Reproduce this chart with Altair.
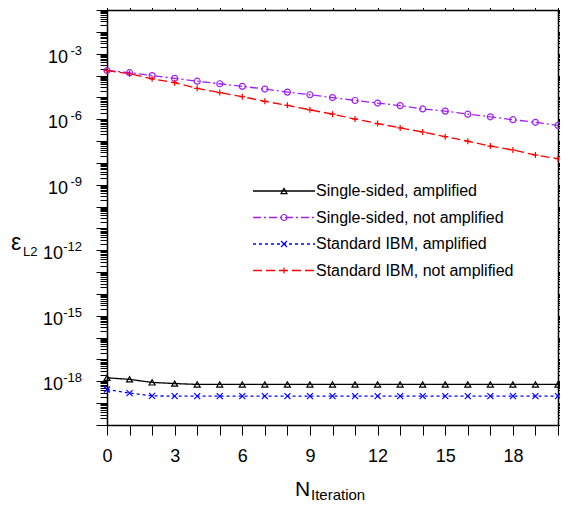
import altair as alt
import pandas as pd

# ---------------- data ----------------
iterations = list(range(21))
series_names = [
    "Single-sided, amplified",
    "Single-sided, not amplified",
    "Standard IBM, amplified",
    "Standard IBM, not amplified",
]
ss_amp = [1.45e-18, 1.23e-18, 8.9e-19, 7.9e-19] + [7.2e-19] * 17
ss_not = [1.70e-4, 1.35e-4, 1.0e-4, 7.4e-5, 5.5e-5, 4.2e-5, 3.2e-5, 2.4e-5,
          1.74e-5, 1.32e-5, 9.8e-6, 7.2e-6, 5.5e-6, 4.2e-6, 2.95e-6, 2.35e-6,
          1.70e-6, 1.29e-6, 9.5e-7, 7.2e-7, 5.2e-7]
ibm_amp = [4.2e-19, 2.9e-19, 2.15e-19] + [2.1e-19] * 18
ibm_not = [1.70e-4, 1.20e-4, 7.1e-5, 4.7e-5, 2.6e-5, 1.66e-5, 1.07e-5, 6.6e-6,
           4.3e-6, 2.7e-6, 1.70e-6, 1.02e-6, 6.3e-7, 4.0e-7, 2.6e-7, 1.58e-7,
           9.8e-8, 5.9e-8, 3.9e-8, 2.3e-8, 1.55e-8]
label_exponents = [-3, -6, -9, -12, -15, -18]
x_ticks = list(range(0, 21))
y_ticks = [m * 10.0 ** k for k in range(-20, -1) for m in range(1, 10)] + [1e-1]

colors = ["#000000", "#a020f0", "#0000ff", "#ff0000"]
dashes = [[1, 0], [8, 3, 2, 3], [3, 3], [9, 4]]
shapes = ["triangle-up", "circle", "M-1,-1L1,1M-1,1L1,-1", "M-1,0L1,0M0,-1L0,1"]
sizes = [36, 36, 30, 45]

FONT = "Liberation Sans"

rows = []
for name, vals in zip(series_names, [ss_amp, ss_not, ibm_amp, ibm_not]):
    for it, v in zip(iterations, vals):
        rows.append({"series": name, "it": it, "err": v})
df = pd.DataFrame(rows)

xscale = alt.Scale(domain=[0, 20], nice=False, zero=False)
yscale = alt.Scale(type="log", domain=[1e-20, 1e-1], nice=False)
cscale = alt.Scale(domain=series_names, range=colors)
dscale = alt.Scale(domain=series_names, range=dashes)
sscale = alt.Scale(domain=series_names, range=shapes)
zscale = alt.Scale(domain=series_names, range=sizes)

decade_test = "abs(log(datum.value)/LN10 - round(log(datum.value)/LN10)) < 0.001"

lines = alt.Chart(df).mark_line(strokeWidth=1.3).encode(
    x=alt.X("it:Q", scale=xscale, title=None,
            axis=alt.Axis(orient="bottom", values=x_ticks, tickSize=10,
                          labelExpr="datum.value % 3 == 0 && datum.value < 20 ? datum.label : ''",
                          labelFlush=False, labelPadding=12, labelFontSize=18)),
    y=alt.Y("err:Q", scale=yscale, title=None,
            axis=alt.Axis(orient="left", values=y_ticks, labels=False,
                          tickSize={"condition": {"test": decade_test, "value": 11}, "value": 7})),
    color=alt.Color("series:N", scale=cscale, legend=None),
    strokeDash=alt.StrokeDash("series:N", scale=dscale, legend=None),
)

points = alt.Chart(df).mark_point(filled=False, strokeWidth=1.2, opacity=1).encode(
    x=alt.X("it:Q", scale=xscale, title=None,
            axis=alt.Axis(orient="top", values=x_ticks, labels=False,
                          tickSize={"condition": {"test": "datum.value % 3 == 0", "value": 10}, "value": 5})),
    y=alt.Y("err:Q", scale=yscale, title=None,
            axis=alt.Axis(orient="right", values=y_ticks, labels=False,
                          tickSize={"condition": {"test": decade_test, "value": 11}, "value": 7})),
    color=alt.Color("series:N", scale=cscale, legend=None),
    shape=alt.Shape("series:N", scale=sscale, legend=None),
    size=alt.Size("series:N", scale=zscale, legend=None),
)

# y tick labels 10^k with superscripts
lab = alt.Chart(pd.DataFrame({"e": label_exponents})).transform_calculate(
    val="pow(10, datum.e)",
    sup="'-' + abs(datum.e)",
    xp="datum.e > -10 ? -39 : -44",
)
ten = lab.mark_text(font=FONT, fontSize=18, align="right", baseline="alphabetic", dy=9).encode(
    x=alt.X("xp:Q", scale=None), y=alt.Y("val:Q", scale=yscale, axis=None), text=alt.value("10"))
sup = lab.mark_text(font=FONT, fontSize=13, align="right", baseline="alphabetic", dy=1).encode(
    x=alt.value(-25), y=alt.Y("val:Q", scale=yscale, axis=None), text="sup:N")

# axis titles
eps = alt.Chart(pd.DataFrame({"t": ["ε"]})).mark_text(
    font=FONT, fontSize=23, align="left", baseline="alphabetic").encode(
    x=alt.value(-96), y=alt.value(240), text="t:N")
eps_sub = alt.Chart(pd.DataFrame({"t": ["L2"]})).mark_text(
    font=FONT, fontSize=13, align="left", baseline="alphabetic").encode(
    x=alt.value(-84), y=alt.value(246), text="t:N")
n_t = alt.Chart(pd.DataFrame({"t": ["N"]})).mark_text(
    font=FONT, fontSize=21, align="left", baseline="alphabetic").encode(
    x=alt.value(188), y=alt.value(486), text="t:N")
n_sub = alt.Chart(pd.DataFrame({"t": ["Iteration"]})).mark_text(
    font=FONT, fontSize=15, align="left", baseline="alphabetic").encode(
    x=alt.value(204), y=alt.value(490), text="t:N")

# legend (manual)
leg = alt.Chart(pd.DataFrame({"series": series_names, "row": [0, 1, 2, 3]})).transform_calculate(
    ly="181 + 26.5*datum.row")
leg_line = leg.mark_rule(strokeWidth=1.3).encode(
    x=alt.value(146), x2=alt.value(208), y=alt.Y("ly:Q", scale=None),
    color=alt.Color("series:N", scale=cscale, legend=None),
    strokeDash=alt.StrokeDash("series:N", scale=dscale, legend=None))
leg_pt = leg.mark_point(filled=False, strokeWidth=1.2, opacity=1).encode(
    x=alt.value(177), y=alt.Y("ly:Q", scale=None),
    color=alt.Color("series:N", scale=cscale, legend=None),
    shape=alt.Shape("series:N", scale=sscale, legend=None),
    size=alt.Size("series:N", scale=zscale, legend=None))
leg_txt = leg.mark_text(font=FONT, fontSize=16, align="left", baseline="middle").encode(
    x=alt.value(209), y=alt.Y("ly:Q", scale=None), text="series:N")

chart = alt.layer(
    lines, points, ten, sup, eps, eps_sub, n_t, n_sub, leg_line, leg_pt, leg_txt
).resolve_axis(x="independent", y="independent").properties(
    width=451, height=415,
    autosize=alt.AutoSizeParams(type="none"),
    padding={"left": 99, "top": 2, "right": 2, "bottom": 77},
).configure_view(stroke=None).configure_axis(
    grid=False, domainColor="black", domainWidth=1.5, tickColor="black", tickWidth=1,
    labelFont=FONT, labelColor="black",
)

chart.save("out.html", embed_options={"renderer": "svg", "actions": False})
